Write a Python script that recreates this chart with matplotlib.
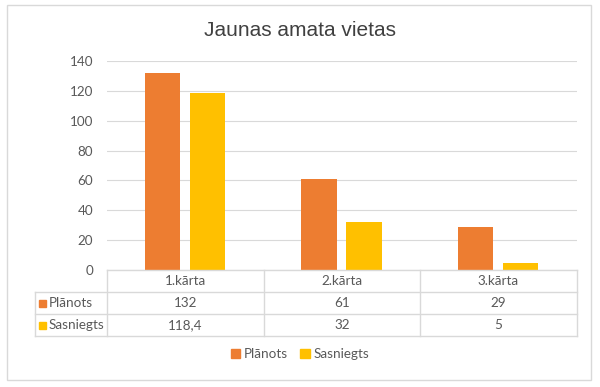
import numpy as np
import matplotlib.pyplot as plt
from matplotlib.patches import Rectangle

categories = ['1.kārta', '2.kārta', '3.kārta']
series_names = ['Plānots', 'Sasniegts']
planots = [132, 61, 29]
sasniegts = [118.4, 32, 5]
table_text = [['132', '61', '29'], ['118,4', '32', '5']]
colors = ['#ED7D31', '#FFC000']
yticks = [0, 20, 40, 60, 80, 100, 120, 140]

W, H = 600, 387
plt.rcParams['font.family'] = ['Lato', 'DejaVu Sans']
fig = plt.figure(figsize=(6, 3.87), dpi=100)
txt = '#595959'
grid = '#D9D9D9'
fs = 9.7

def fx(px):
    return px / W

def fy(py):
    return 1 - py / H

# outer frame
fig.patches.append(Rectangle((fx(7), fy(380)), fx(591) - fx(7), fy(5) - fy(380),
                             transform=fig.transFigure, fill=False, edgecolor=grid, lw=1))

fig.text(0.5, fy(30), 'Jaunas amata vietas', ha='center', va='center', fontsize=15,
         color='#404040', family=['Liberation Sans', 'DejaVu Sans'])

ax = fig.add_axes([fx(107), fy(270), fx(577) - fx(107), fy(61) - fy(270)])
x = np.arange(len(categories))
w = 0.225
ax.bar(x - 0.147, planots, w, color=colors[0], zorder=3)
ax.bar(x + 0.14, sasniegts, w, color=colors[1], zorder=3)
ax.set_xlim(-0.5, len(categories) - 0.5)
ax.set_ylim(0, 140)
ax.set_yticks(yticks)
ax.yaxis.grid(True, color=grid, lw=0.8, zorder=0)
ax.set_xticks([])
for s in ax.spines.values():
    s.set_visible(False)
ax.tick_params(axis='y', length=0, labelsize=fs, labelcolor=txt, pad=10)

# data table
tx = fig.add_axes([fx(35), fy(336), fx(577) - fx(35), fy(270) - fy(336)])
tx.set_xlim(35, 577)
tx.set_ylim(336, 270)
tx.axis('off')
cols = [107, 264, 420, 577]
rows = [270, 292, 314, 336]
lc = grid
tx.plot([cols[0], cols[-1]], [rows[0], rows[0]], color=lc, lw=1, clip_on=False)
for r in rows[1:]:
    tx.plot([35, cols[-1]], [r, r], color=lc, lw=1, clip_on=False)
tx.plot([35, 35], [rows[1], rows[-1]], color=lc, lw=1, clip_on=False)
for c in cols:
    tx.plot([c, c], [rows[0], rows[-1]], color=lc, lw=1, clip_on=False)
for i, cat in enumerate(categories):
    tx.text((cols[i] + cols[i + 1]) / 2, (rows[0] + rows[1]) / 2, cat,
            ha='center', va='center', fontsize=fs, color=txt)
for j, name in enumerate(series_names):
    yc = (rows[j + 1] + rows[j + 2]) / 2
    tx.add_patch(Rectangle((39, yc - 3.5), 7, 7, color=colors[j], clip_on=False))
    tx.text(49, yc, name, ha='left', va='center', fontsize=fs, color=txt)
    for i in range(len(categories)):
        tx.text((cols[i] + cols[i + 1]) / 2, yc, table_text[j][i],
                ha='center', va='center', fontsize=fs, color=txt)

# legend
handles = [Rectangle((0, 0), 1, 1, color=c) for c in colors]
fig.legend(handles, series_names, loc='center', bbox_to_anchor=(0.5, fy(354)), ncol=2,
           frameon=False, fontsize=fs, labelcolor=txt, handlelength=0.7, handleheight=0.7,
           handletextpad=0.3, columnspacing=0.9)

fig.savefig('out.png', dpi=100)
